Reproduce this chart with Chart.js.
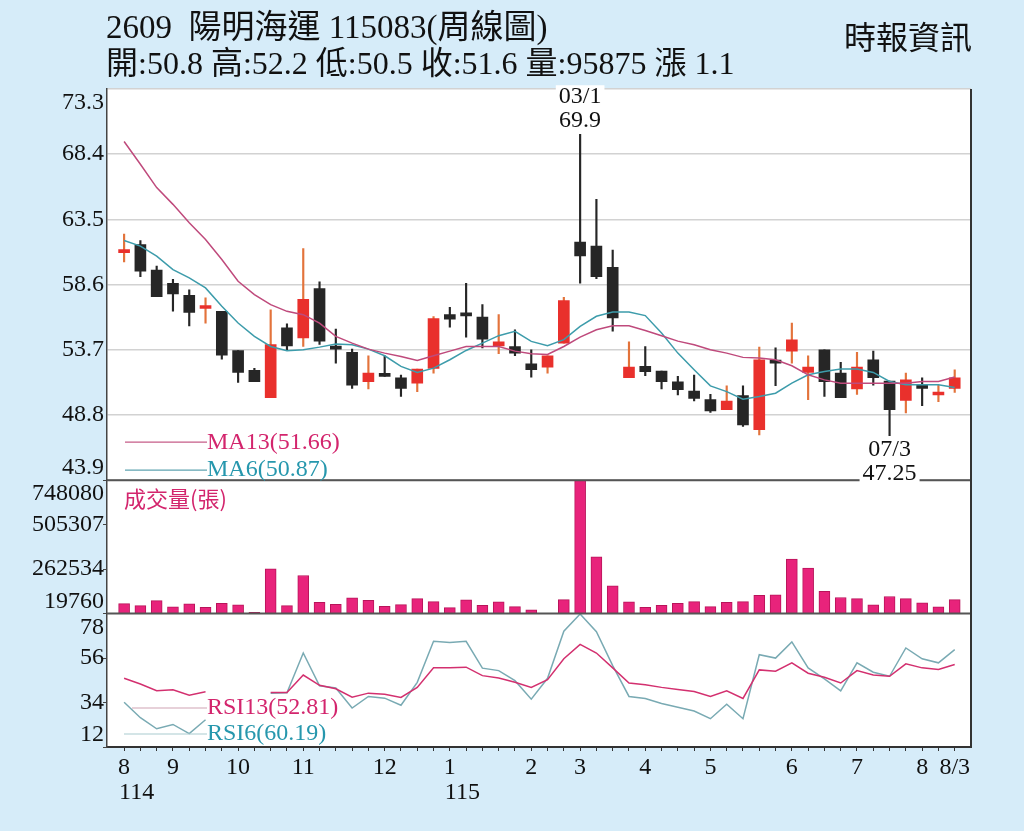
<!DOCTYPE html>
<html lang="zh-Hant">
<head>
    <meta charset="UTF-8">
    <title>2609 陽明海運 周線圖</title>
    <script src="https://cdn.jsdelivr.net/npm/chart.js"></script>
    <style>
        body {
            margin: 0;
            background: #d6ecf9;
        }

        .page {
            position: relative;
            width: 1024px;
            height: 831px;
            overflow: hidden;
        }

        canvas {
            position: absolute;
            left: 0;
            top: 0;
        }

        .head {
            position: absolute;
            font-family: "Liberation Serif", "Noto Sans CJK TC", serif;
            font-size: 32px;
            line-height: 36px;
            color: #111;
            white-space: pre;
        }

        #title { left: 106px; top: 9px; font-size: 33px; }
        #quote { left: 106px; top: 45px; }
        #source { right: 52px; top: 20px; }
    </style>
</head>
<body>
<div class="page">
    <canvas id="chart" width="1024" height="831"></canvas>
    <div class="head" id="title">2609  陽明海運 115083(周線圖)</div>
    <div class="head" id="quote"></div>
    <div class="head" id="source">時報資訊</div>
</div>

<script>
    // weekly candles (one entry per week)
    const opens  = [61.0, 61.6, 59.7, 58.7, 57.8, 56.8, 56.6, 53.65, 52.15, 50.1,
                    55.35, 54.6, 58.3, 53.95, 53.5, 51.3, 51.8, 51.6, 51.2, 52.3,
                    56.35, 56.35, 56.15, 54.0, 53.95, 52.65, 52.4, 54.2, 61.8, 61.5,
                    59.9, 51.6, 52.45, 52.1, 51.3, 50.6, 49.95, 49.2, 50.25, 47.7,
                    52.9, 53.6, 52.0, 53.7, 51.95, 50.75, 52.95, 51.35, 49.9, 50.95,
                    50.3, 50.8];
    const highs  = [62.4, 61.9, 60.0, 59.0, 58.2, 57.6, 56.6, 53.65, 52.3, 56.7,
                    55.65, 61.3, 58.8, 55.25, 53.75, 53.25, 53.25, 51.8, 52.25, 56.2,
                    56.9, 58.7, 57.1, 56.35, 55.2, 53.7, 53.25, 57.65, 69.9, 65.0,
                    61.2, 54.3, 53.95, 52.1, 51.7, 51.8, 50.35, 51.0, 51.0, 53.9,
                    53.85, 55.7, 53.25, 53.7, 52.75, 53.5, 53.6, 51.35, 51.95, 51.6,
                    51.05, 52.2];
    const lows   = [60.3, 59.2, 57.7, 56.6, 55.5, 55.7, 53.0, 51.25, 51.3, 50.1,
                    53.65, 53.95, 54.1, 52.7, 50.8, 50.75, 51.7, 50.2, 50.55, 51.95,
                    55.4, 54.65, 53.85, 53.4, 53.25, 51.65, 51.95, 54.2, 58.7, 59.05,
                    55.1, 51.6, 51.75, 50.75, 50.3, 49.85, 49.0, 49.2, 47.95, 47.3,
                    51.0, 52.7, 49.95, 50.2, 50.1, 50.35, 51.05, 47.25, 48.95, 49.5,
                    49.8, 50.5];
    const closes = [61.2, 59.6, 57.7, 57.9, 56.5, 57.0, 53.3, 52.0, 51.3, 54.1,
                    54.0, 57.5, 54.35, 53.75, 51.05, 51.95, 51.7, 50.8, 52.25, 56.05,
                    56.0, 56.25, 54.5, 54.3, 53.45, 52.2, 53.25, 57.4, 60.75, 59.2,
                    56.1, 52.4, 52.05, 51.3, 50.7, 50.05, 49.1, 49.85, 48.05, 52.95,
                    52.7, 54.45, 52.4, 51.3, 50.1, 52.4, 51.6, 49.2, 51.45, 50.8,
                    50.5, 51.6];

    const ma13 = [69.35, 67.64, 65.89, 64.63, 63.25, 61.99, 60.49, 58.85, 57.85, 57.09,
                  56.59, 56.34, 55.71, 54.71, 54.2, 53.75, 53.45, 53.2, 52.9, 53.25,
                  53.6, 53.95, 53.95, 53.95, 53.6, 53.4, 53.35, 53.95, 54.65, 55.2,
                  55.5, 55.5, 55.15, 54.75, 54.35, 54.08, 53.7, 53.45, 53.13, 53.08,
                  52.95, 52.5, 51.82, 51.44, 51.19, 51.19, 51.19, 51.19, 51.19, 51.32,
                  51.32, 51.66];
    const ma6  = [61.92, 61.49, 60.74, 59.73, 59.1, 58.35, 56.97, 55.71, 54.71, 53.95,
                  53.63, 53.7, 53.9, 54.13, 54.08, 53.75, 53.25, 52.45, 52.0, 52.32,
                  52.95, 53.65, 54.2, 54.76, 55.09, 54.33, 54.0, 54.46, 55.46, 56.22,
                  56.54, 56.54, 56.27, 54.96, 53.45, 52.2, 50.99, 50.56, 49.99, 50.19,
                  50.44, 51.19, 51.82, 52.07, 52.25, 52.25, 52.0, 51.32, 51.07, 51.07,
                  51.07, 50.87];

    // 成交量(張)
    const volumes = [74500, 63600, 91000, 56500, 72900, 54300, 76200, 67400, 26900, 264500,
                     63600, 227900, 81600, 70700, 105700, 92600, 59700, 69000, 101900, 85500,
                     52600, 94800, 65200, 83800, 58100, 40000, 19760, 96400, 748080, 330300,
                     171400, 83800, 54300, 65200, 76200, 85500, 58100, 81600, 85500, 120000,
                     122200, 317100, 267800, 141900, 107400, 101900, 67400, 112900, 101900, 78400,
                     56500, 95875];

    const rsi13 = [46.0, 43.15, 39.8, 40.3, 37.65, 39.3, null, null, null, 39.0,
                   39.0, 47.6, 42.5, 40.8, 36.6, 38.65, 38.15, 36.5, 41.5, 51.15,
                   51.15, 51.5, 47.3, 46.15, 44.0, 41.5, 45.3, 55.65, 62.8, 58.5,
                   51.15, 43.65, 42.8, 41.5, 40.5, 39.5, 37.0, 39.8, 36.0, 50.15,
                   49.5, 53.65, 48.5, 46.5, 43.65, 49.8, 47.65, 47.0, 53.15, 51.15,
                   50.3, 52.81];
    const rsi6  = [34.15, 26.5, 21.0, 23.15, 18.65, 25.5, null, null, null, 38.6,
                   38.8, 58.5, 42.3, 41.2, 31.3, 37.0, 36.15, 32.65, 44.0, 64.3,
                   63.65, 64.3, 51.0, 49.8, 44.8, 35.65, 46.0, 69.3, 77.8, 69.0,
                   52.3, 37.0, 36.0, 33.5, 31.7, 29.8, 26.0, 33.15, 26.0, 57.65,
                   56.0, 64.0, 51.15, 45.65, 39.8, 53.65, 49.0, 47.0, 61.0, 55.65,
                   53.65, 60.19];

    // axis ticks
    const priceTicks = [43.9, 48.8, 53.7, 58.6, 63.5, 68.4, 73.3];
    const volTicks = [19760, 262534, 505307, 748080];
    const rsiTicks = [12, 34, 56, 78];
    const monthTickAt   = [0, 3, 7, 11, 16, 20, 25, 28, 32, 36, 41, 45, 49, 51];
    const monthTickText = ['8', '9', '10', '11', '12', '1', '2', '3', '4', '5', '6', '7', '8', '8/3'];
    const yearTickAt   = [0, 20];
    const yearTickText = ['114', '115'];

    // marked extremes: week index, date text, value text
    const marks = [
        { i: 28, date: '03/1', value: '69.9', above: true },
        { i: 47, date: '07/3', value: '47.25', above: false }
    ];

    const last = closes.length - 1;
    document.getElementById('quote').textContent =
        '開:' + opens[last] + ' 高:' + highs[last] + ' 低:' + lows[last] +
        ' 收:' + closes[last] + ' 量:' + volumes[last] +
        ' 漲 ' + (closes[last] - closes[last - 1]).toFixed(1);

    const RED = '#e9302c';
    const BLACK = '#262626';
    const PINK = '#d3256d';
    const TEAL = '#2697ad';
    const SERIF = '"Liberation Serif", serif';

    const idx = closes.map((_, i) => i);
    const up = closes.map((c, i) => c >= opens[i]);

    const xy = arr => idx.map(i => ({ x: i, y: arr[i] }));

    const drawText = (ctx, text, x, y, color, font, align) => {
        ctx.font = font;
        ctx.fillStyle = color;
        ctx.textAlign = align || 'left';
        ctx.textBaseline = 'middle';
        ctx.fillText(text, x, y);
    };

    const hLine = (ctx, x1, x2, y, color, width) => {
        ctx.beginPath();
        ctx.strokeStyle = color;
        ctx.lineWidth = width;
        ctx.moveTo(x1, y);
        ctx.lineTo(x2, y);
        ctx.stroke();
    };

    const panels = {
        id: 'panels',
        beforeDraw(chart) {
            const { ctx, chartArea: a } = chart;
            ctx.save();
            ctx.fillStyle = '#fff';
            ctx.fillRect(a.left, a.top, a.right - a.left, a.bottom - a.top);
            ctx.restore();
        },
        afterDraw(chart) {
            const { ctx, chartArea: a, scales } = chart;
            const sx = scales.x, sp = scales.y, sv = scales.yVol, sr = scales.yRsi;
            ctx.save();

            // separators and frame
            hLine(ctx, a.left, a.right, sp.bottom, '#555', 2);
            hLine(ctx, a.left, a.right, sv.bottom, '#555', 2);
            ctx.beginPath();
            ctx.strokeStyle = '#333';
            ctx.lineWidth = 2;
            ctx.moveTo(a.right, a.top);
            ctx.lineTo(a.right, a.bottom);
            ctx.stroke();

            // y labels, kept inside their own pane
            [[sp, priceTicks, v => v.toFixed(1)], [sv, volTicks, String], [sr, rsiTicks, String]]
                .forEach(([s, ticks, fmt]) => {
                    ticks.forEach(v => {
                        const y = Math.min(Math.max(s.getPixelForValue(v), s.top + 14), s.bottom - 12);
                        drawText(ctx, fmt(v), a.left - 3, y, '#111', '24px ' + SERIF, 'right');
                    });
                });

            // year under the month label
            yearTickAt.forEach((i, k) => {
                drawText(ctx, yearTickText[k], sx.getPixelForValue(i) - 5, a.bottom + 46, '#111', '24px ' + SERIF, 'left');
            });

            // legends
            hLine(ctx, a.left + 18, a.left + 100, sp.bottom - 38, '#c65c88', 1.2);
            drawText(ctx, 'MA13(' + ma13[last].toFixed(2) + ')', a.left + 100, sp.bottom - 37, PINK, '24px ' + SERIF);
            hLine(ctx, a.left + 18, a.left + 100, sp.bottom - 10, '#5fa3b0', 1.2);
            drawText(ctx, 'MA6(' + ma6[last].toFixed(2) + ')', a.left + 100, sp.bottom - 10, TEAL, '24px ' + SERIF);
            drawText(ctx, '成交量(張)', a.left + 17, sv.top + 18, PINK, '22px "Noto Sans CJK TC"');
            hLine(ctx, a.left + 25, a.left + 100, sr.bottom - 39, '#cfa3b4', 1.2);
            drawText(ctx, 'RSI13(' + rsi13[last].toFixed(2) + ')', a.left + 100, sr.bottom - 39, PINK, '24px ' + SERIF);
            hLine(ctx, a.left + 17, a.left + 100, sr.bottom - 13, '#a9cbd0', 1.2);
            drawText(ctx, 'RSI6(' + rsi6[last].toFixed(2) + ')', a.left + 100, sr.bottom - 13, TEAL, '24px ' + SERIF);

            // high / low marks
            marks.forEach(m => {
                const x = sx.getPixelForValue(m.i);
                const yv = sp.getPixelForValue(m.above ? highs[m.i] : lows[m.i]);
                const rows = m.above
                    ? [[m.date, yv - 38], [m.value, yv - 14]]
                    : [[m.date, yv + 14], [m.value, yv + 38]];
                rows.forEach(([t, y]) => {
                    ctx.font = '24px ' + SERIF;
                    const w = ctx.measureText(t).width;
                    ctx.fillStyle = '#fff';
                    ctx.fillRect(x - w / 2 - 3, y - 11, w + 6, 22);
                    drawText(ctx, t, x, y, '#111', '24px ' + SERIF, 'center');
                });
            });
            ctx.restore();
        }
    };

    const paneAxis = (min, max, ticks, weight, stackWeight, grid) => ({
        type: 'linear',
        position: 'left',
        stack: 'panes',
        weight: weight,
        stackWeight: stackWeight,
        min: min,
        max: max,
        afterBuildTicks: s => { s.ticks = ticks.map(v => ({ value: v })); },
        afterFit: s => { s.width = 107; s.paddingTop = 0; s.paddingBottom = 0; },
        ticks: { display: false },
        grid: grid,
        border: { color: '#444', width: 1.5 }
    });

    new Chart(document.getElementById('chart'), {
        data: {
            datasets: [
                { type: 'line', label: 'MA13', data: xy(ma13), yAxisID: 'y', borderColor: '#bf4a7c',
                  borderWidth: 1.5, pointRadius: 0, tension: 0, order: 0 },
                { type: 'line', label: 'MA6', data: xy(ma6), yAxisID: 'y', borderColor: '#3d9cab',
                  borderWidth: 1.5, pointRadius: 0, tension: 0, order: 0 },
                { type: 'bar', label: 'body', data: idx.map(i => ({ x: i, y: [opens[i], closes[i]] })), yAxisID: 'y',
                  backgroundColor: up.map(u => u ? RED : BLACK), barThickness: 11, minBarLength: 3,
                  grouped: false, order: 2 },
                { type: 'bar', label: 'wick', data: idx.map(i => ({ x: i, y: [lows[i], highs[i]] })), yAxisID: 'y',
                  backgroundColor: up.map(u => u ? '#e3733b' : BLACK), barThickness: 1.5,
                  grouped: false, order: 3 },
                { type: 'bar', label: '成交量', data: xy(volumes), yAxisID: 'yVol',
                  backgroundColor: '#e8237b', borderColor: '#b8145a', borderWidth: 1, barThickness: 11,
                  grouped: false, order: 2 },
                { type: 'line', label: 'RSI13', data: xy(rsi13), yAxisID: 'yRsi', borderColor: '#d3306f',
                  borderWidth: 1.5, pointRadius: 0, tension: 0, spanGaps: false, order: 0 },
                { type: 'line', label: 'RSI6', data: xy(rsi6), yAxisID: 'yRsi', borderColor: '#79aab3',
                  borderWidth: 1.5, pointRadius: 0, tension: 0, spanGaps: false, order: 1 }
            ]
        },
        options: {
            responsive: false,
            animation: false,
            layout: { padding: { left: 0, right: 53, top: 89, bottom: 0 } },
            plugins: { legend: { display: false }, tooltip: { enabled: false } },
            scales: {
                x: {
                    type: 'linear',
                    min: -1.05,
                    max: 52,
                    offset: false,
                    afterBuildTicks: s => { s.ticks = idx.map(i => ({ value: i })); },
                    afterFit: s => { s.height = 84; s.paddingLeft = 0; s.paddingRight = 0; },
                    grid: { offset: false, drawOnChartArea: false, drawTicks: true, tickLength: 4, color: '#333' },
                    border: { color: '#333', width: 2 },
                    ticks: {
                        autoSkip: false,
                        maxRotation: 0,
                        padding: 2,
                        color: '#111',
                        font: { family: SERIF, size: 24 },
                        callback: v => {
                            const k = monthTickAt.indexOf(v);
                            return k < 0 ? '' : monthTickText[k];
                        }
                    }
                },
                y: paneAxis(43.9, 73.3, priceTicks, 3, 390,
                    { color: '#d2d2d2', lineWidth: 1.5, drawTicks: false }),
                yVol: paneAxis(19760, 748080, volTicks, 2, 133,
                    { drawOnChartArea: false, drawTicks: true, tickLength: 4, color: '#444' }),
                yRsi: paneAxis(12, 78, rsiTicks, 1, 133,
                    { drawOnChartArea: false, drawTicks: true, tickLength: 4, color: '#444' })
            }
        },
        plugins: [panels]
    });
</script>
</body>
</html>
